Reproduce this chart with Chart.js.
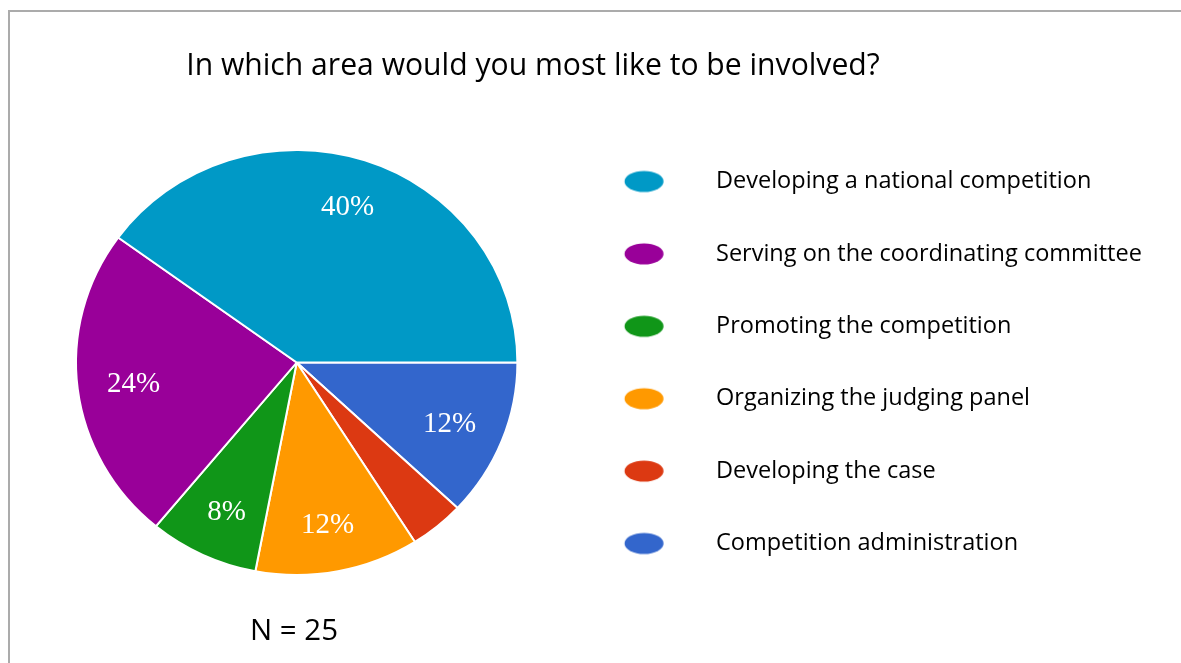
<!DOCTYPE html>
<html>
<head>
<meta charset="utf-8">
<title>In which area would you most like to be involved?</title>
<script src="https://cdn.jsdelivr.net/npm/chart.js@4.4.1/dist/chart.umd.min.js"></script>
<style>
  html, body { margin: 0; padding: 0; background: #fff; overflow: hidden; }
  #frame { position: absolute; left: 8px; top: 10px; width: 1400px; height: 900px; border: 2px solid #ababab; }
  #wrap { position: absolute; left: 0; top: 0; width: 1181px; height: 663px; }
</style>
</head>
<body>
<div id="frame"></div>
<div id="wrap"><canvas id="areaChart"></canvas></div>
<script>
// ===== Involvement survey pie =====

// Data (legend order, counts out of N = 25)
const titleText = 'In which area would you most like to be involved?';
const noteText = 'N = 25';
const areas = [
  'Developing a national competition',
  'Serving on the coordinating committee',
  'Promoting the competition',
  'Organizing the judging panel',
  'Developing the case',
  'Competition administration'
];
const responses = [10, 6, 2, 3, 1, 3];
const sliceColors = ['#0099c6', '#990099', '#109618', '#ff9900', '#dc3912', '#3366cc'];

const sansFont = '"Open Sans", Lato, sans-serif';
const W = 1181;

// Pie geometry (reference pie is slightly flattened)
const pieCx = 296.7;
const pieCy = 362.5;
const pieR = 220.7;
const flatten = 212.5 / 220.7;

// Font sizes fitted to the reference text widths
const measureCtx = document.createElement('canvas').getContext('2d');
function textWidth(text, size) {
  measureCtx.font = size + 'px ' + sansFont;
  return measureCtx.measureText(text).width;
}
function fitSize(text, target) {
  return 100 * target / textWidth(text, 100);
}
const titleSize = fitSize(titleText, 694);
const noteSize = fitSize(noteText, 88);
const legendFontSize = fitSize(areas[1], 426);

// Legend geometry
const legendStep = 72.4;
const legendPad = legendStep - legendFontSize;
const legendLeft = 2 * pieCx;
const boxW = 716 - legendFontSize / 2 - (legendLeft + legendPad);
const markerShift = 644 - (legendLeft + legendPad + boxW / 2);
const widestLabel = Math.max(...areas.map(a => textWidth(a, legendFontSize)));
const legendWidth = legendPad + boxW + legendFontSize / 2 + widestLabel + 10;

// Ellipse marker drawn onto a small canvas, used as legend point style
function ellipseMarker(color) {
  const w = Math.ceil(2 * (Math.abs(markerShift) + 20)) + 2;
  const c = document.createElement('canvas');
  c.width = w;
  c.height = 24;
  const g = c.getContext('2d');
  g.fillStyle = color;
  g.beginPath();
  g.ellipse(w / 2 + markerShift, 12, 19.5, 10.5, 0, 0, Math.PI * 2);
  g.fill();
  return c;
}

// Flatten the pie vertically, then write percent labels inside slices
const sliceLabels = {
  id: 'sliceLabels',
  beforeDatasetsDraw(chart) {
    const { ctx } = chart;
    ctx.save();
    ctx.translate(pieCx, pieCy);
    ctx.scale(1, flatten);
    ctx.translate(-pieCx, -pieCy);
  },
  afterDatasetsDraw(chart) {
    const { ctx } = chart;
    ctx.restore();
    const meta = chart.getDatasetMeta(0);
    const values = chart.data.datasets[0].data;
    const total = values.reduce((s, v) => s + v, 0);
    ctx.save();
    ctx.font = '29px "Liberation Serif", serif';
    ctx.fillStyle = '#ffffff';
    ctx.textAlign = 'center';
    ctx.textBaseline = 'middle';
    meta.data.forEach((arc, i) => {
      const share = values[i] / total;
      if (share < 0.05) return;
      const { x, y, startAngle, endAngle, outerRadius } = arc.getProps(['x', 'y', 'startAngle', 'endAngle', 'outerRadius'], true);
      const mid = (startAngle + endAngle) / 2;
      const r = outerRadius * 0.745;
      ctx.fillText(Math.round(share * 100) + '%', x + Math.cos(mid) * r, y + Math.sin(mid) * r + 1);
    });
    ctx.restore();
  }
};

// Title above and sample size note below the pie
const captions = {
  id: 'captions',
  afterDraw(chart) {
    const { ctx } = chart;
    ctx.save();
    ctx.fillStyle = '#000000';
    ctx.textAlign = 'center';
    ctx.textBaseline = 'alphabetic';
    ctx.font = titleSize + 'px ' + sansFont;
    ctx.fillText(titleText, 533, 75);
    ctx.font = noteSize + 'px ' + sansFont;
    ctx.fillText(noteText, 294, 639.5);
    ctx.restore();
  }
};

// Chart.js draws clockwise, the reference runs counter-clockwise from 3 o'clock
const ccwLabels = [...areas].reverse();
const ccwValues = [...responses].reverse();
const ccwColors = [...sliceColors].reverse();

const ctx = document.getElementById('areaChart').getContext('2d');

new Chart(ctx, {
  type: 'pie',
  data: {
    labels: ccwLabels,
    datasets: [{
      data: ccwValues,
      backgroundColor: ccwColors,
      borderColor: '#ffffff',
      borderWidth: 2
    }]
  },
  options: {
    responsive: true,
    maintainAspectRatio: false,
    animation: false,
    rotation: 90,
    radius: pieR,
    layout: {
      padding: { left: 0, right: W - legendLeft - legendWidth, top: 2 * pieCy - 663, bottom: 0 }
    },
    plugins: {
      tooltip: { enabled: false },
      legend: {
        position: 'right',
        align: 'center',
        reverse: true,
        labels: {
          usePointStyle: true,
          pointStyleWidth: boxW,
          padding: legendPad,
          color: '#000000',
          font: { family: sansFont, size: legendFontSize },
          generateLabels(chart) {
            const items = Chart.overrides.pie.plugins.legend.labels.generateLabels(chart);
            items.forEach(item => { item.pointStyle = ellipseMarker(item.fillStyle); });
            return items;
          }
        }
      }
    }
  },
  plugins: [sliceLabels, captions]
});
</script>
</body>
</html>
